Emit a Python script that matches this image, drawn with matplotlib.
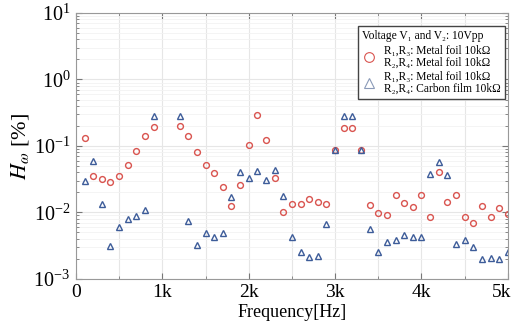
import matplotlib
matplotlib.use("Agg")
import matplotlib.pyplot as plt
import matplotlib.transforms as mtransforms
from matplotlib.ticker import FixedLocator, FuncFormatter, LogLocator, NullFormatter

plt.rcParams['font.family'] = ['Liberation Serif', 'DejaVu Serif']
plt.rcParams['mathtext.fontset'] = 'stix'

# frequencies [Hz] (1.0k and 1.1k not measured)
freq = [100, 200, 300, 400, 500, 600, 700, 800, 900,
        1200, 1300, 1400, 1500, 1600, 1700, 1800, 1900, 2000,
        2100, 2200, 2300, 2400, 2500, 2600, 2700, 2800, 2900, 3000,
        3100, 3200, 3300, 3400, 3500, 3600, 3700, 3800, 3900, 4000,
        4100, 4200, 4300, 4400, 4500, 4600, 4700, 4800, 4900, 5000]

# metal foil / metal foil  (circles)
h_metal = [0.133, 0.035, 0.0316, 0.0285, 0.0354, 0.051, 0.083, 0.143, 0.195,
           0.199, 0.141, 0.080, 0.0517, 0.0393, 0.0239, 0.0124, 0.0257, 0.1045,
           0.29, 0.121, 0.033, 0.0102, 0.0132, 0.0132, 0.0157, 0.0144, 0.0132, 0.086,
           0.185, 0.188, 0.088, 0.0129, 0.0097, 0.0090, 0.018, 0.0139, 0.0119, 0.0182,
           0.0085, 0.0402, 0.0144, 0.0184, 0.0084, 0.0069, 0.0127, 0.0084, 0.0116, 0.0095]

# metal foil / carbon film  (triangles)
h_carbon = [0.030, 0.059, 0.0132, 0.0031, 0.0061, 0.0079, 0.0089, 0.011, 0.285,
            0.285, 0.0074, 0.0032, 0.0049, 0.0043, 0.0049, 0.0169, 0.0406, 0.0327,
            0.042, 0.0305, 0.043, 0.0174, 0.0043, 0.0025, 0.00214, 0.0022, 0.0068, 0.088,
            0.278, 0.278, 0.088, 0.0056, 0.0025, 0.0036, 0.0038, 0.0045, 0.0043, 0.0043,
            0.0375, 0.057, 0.0362, 0.00335, 0.0039, 0.00305, 0.0020, 0.00207, 0.00197, 0.00254]

xticks = [0, 1000, 2000, 3000, 4000, 5000]
xticklabels = ['0', '1k', '2k', '3k', '4k', '5k']

red = '#d9544f'
blue = '#3d5c99'

fig = plt.figure(figsize=(5.13, 3.34), dpi=100)
ax = fig.add_axes([0.148, 0.165, 0.842, 0.796])

ax.plot(freq, h_metal, linestyle='none', marker='o', markersize=4.2,
        markerfacecolor='none', markeredgecolor=red, markeredgewidth=1.0)
ax.plot(freq, h_carbon, linestyle='none', marker='^', markersize=4.2,
        markerfacecolor='none', markeredgecolor=blue, markeredgewidth=1.0)

ax.set_yscale('log')
ax.set_ylim(1e-3, 1e1)
ax.set_xlim(0, 5000)
ax.xaxis.set_major_locator(FixedLocator(xticks))
ax.xaxis.set_major_formatter(FuncFormatter(lambda v, p: xticklabels[xticks.index(int(round(v)))] if int(round(v)) in xticks else ''))
ax.xaxis.set_minor_locator(FixedLocator([500, 1500, 2500, 3500, 4500]))
ax.yaxis.set_major_locator(LogLocator(base=10, numticks=10))
ax.yaxis.set_minor_locator(LogLocator(base=10, subs=range(2, 10), numticks=20))
ax.yaxis.set_minor_formatter(NullFormatter())

ax.tick_params(which='both', direction='in', top=True, right=True, color='#777777')
ax.tick_params(which='major', labelsize=14.5, length=4, pad=4)
ax.tick_params(axis='x', which='major', labelsize=14)
ax.tick_params(which='minor', length=2)
ax.grid(True, which='major', color='#e6e6e6', linewidth=0.8)
ax.grid(True, which='minor', axis='x', color='#e6e6e6', linewidth=0.8)
ax.grid(True, which='minor', axis='y', color='#f2f2f2', linewidth=0.6)
ax.set_axisbelow(True)
for s in ax.spines.values():
    s.set_color('#999999')
    s.set_linewidth(0.8)

# keep the last x label inside the figure, like the original
fig.canvas.draw()
last = ax.get_xticklabels()[-1]
last.set_transform(last.get_transform() + mtransforms.ScaledTranslation(-6 / 100, 0, fig.dpi_scale_trans))

ax.set_xlabel('Frequency[Hz]', fontsize=13, labelpad=2)
ax.set_ylabel(r'$H_{\omega}$ [%]', fontsize=16, labelpad=2)

h1 = plt.Line2D([], [], linestyle='none', marker='o', markersize=7,
                markerfacecolor='none', markeredgecolor=red, markeredgewidth=0.8)
h2 = plt.Line2D([], [], linestyle='none', marker='^', markersize=7,
                markerfacecolor='none', markeredgecolor='#8a9ab8', markeredgewidth=0.8)
leg = ax.legend([h1, h2],
                ['R\u2081,R\u2083: Metal foil 10k\u03a9\nR\u2082,R\u2084: Metal foil 10k\u03a9',
                 'R\u2081,R\u2083: Metal foil 10k\u03a9\nR\u2082,R\u2084: Carbon film 10k\u03a9'],
                title='Voltage V\u2081 and V\u2082: 10Vpp', title_fontsize=8.3, fontsize=8.3,
                loc='upper right', bbox_to_anchor=(0.993, 0.95), borderaxespad=0,
                fancybox=False, edgecolor='#444444', framealpha=1, handlelength=1.2,
                handletextpad=0.7, borderpad=0.35, labelspacing=0.2, alignment='left')
leg.get_frame().set_linewidth(1.0)
for t in leg.get_texts():
    t.set_linespacing(1.0)

fig.savefig('out.png', dpi=100)
